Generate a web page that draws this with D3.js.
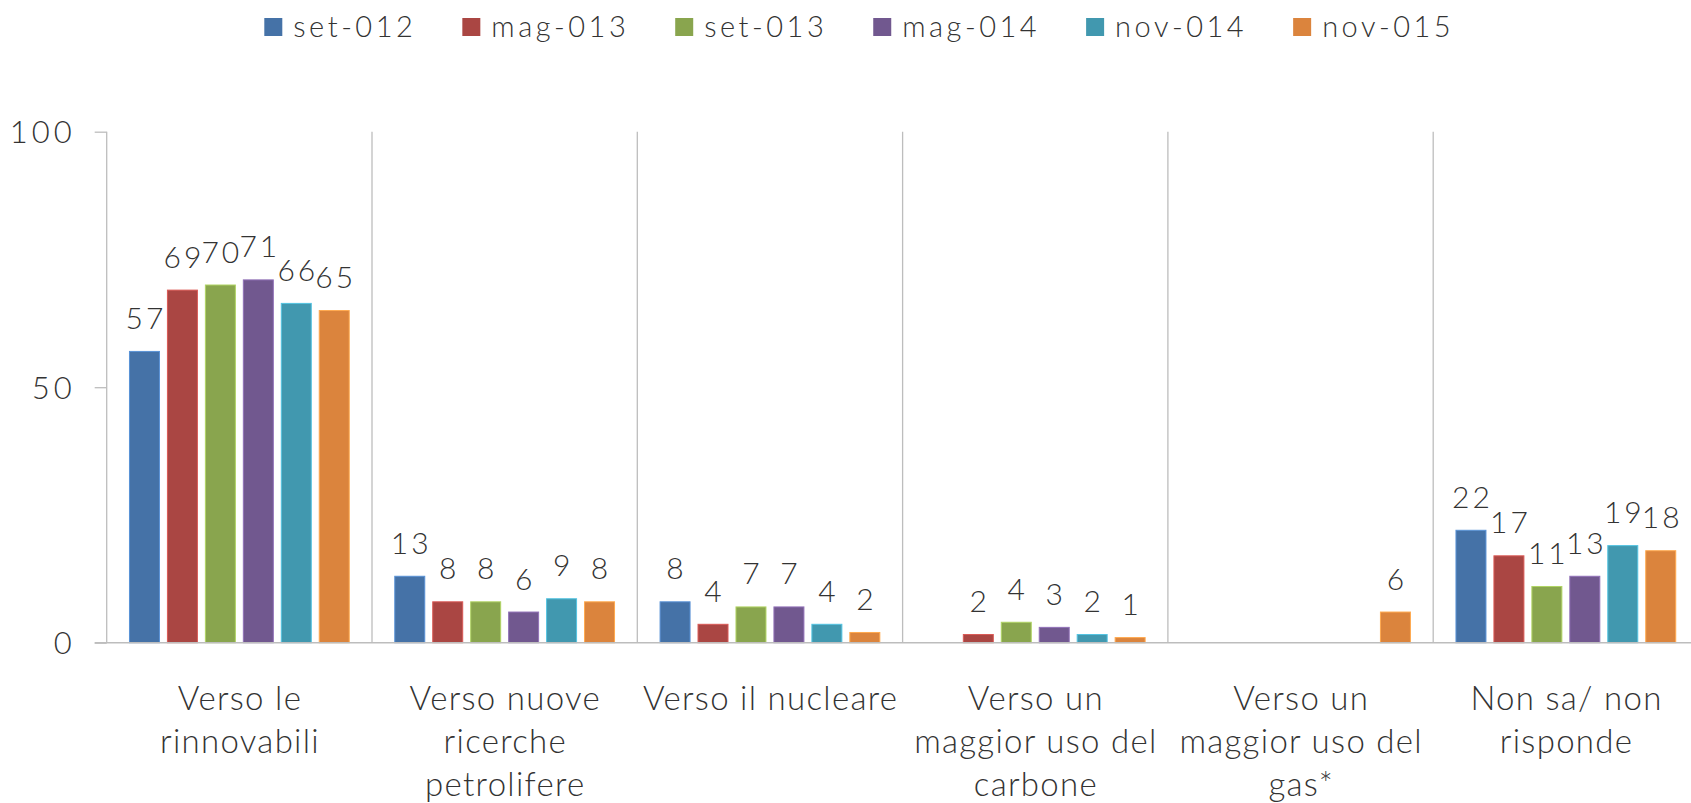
<!DOCTYPE html>
<html>
<head>
<meta charset="utf-8">
<script src="https://cdn.jsdelivr.net/npm/d3@7"></script>
<style>
  html, body { margin: 0; padding: 0; background: #fff; }
  svg { display: block; }
  text { font-family: Lato, "Noto Sans", sans-serif; fill: #333; font-weight: 300; }
</style>
</head>
<body>
<svg id="chart" width="1691" height="803"></svg>
<script>
// ---- data ----
const categories = [
  ["Verso le", "rinnovabili"],
  ["Verso nuove", "ricerche", "petrolifere"],
  ["Verso il nucleare"],
  ["Verso un", "maggior uso del", "carbone"],
  ["Verso un", "maggior uso del", "gas*"],
  ["Non sa/ non", "risponde"]
];
const seriesNames = ["set-012", "mag-013", "set-013", "mag-014", "nov-014", "nov-015"];
const seriesColors = ["#4572A7", "#AA4643", "#89A54E", "#71588F", "#4198AF", "#DB843D"];
const set012 = [57, 13, 8, null, null, 22];
const mag013 = [69, 8, 3.6, 1.6, null, 17];
const set013 = [70, 8, 7, 4, null, 11];
const mag014 = [71, 6, 7, 3, null, 13];
const nov014 = [66.4, 8.6, 3.6, 1.6, null, 19];
const nov015 = [65, 8, 2, 1, 6, 18];
const seriesValues = [set012, mag013, set013, mag014, nov014, nov015];
const yTicks = [0, 50, 100];

(function () {
// ---- layout ----
const svg = d3.select("#chart");
const plotLeft = 106.7, plotTop = 131.7, plotBottom = 642.7, bandW = 265.3;
const catIdx = d3.range(categories.length);

const x = d3.scaleBand().domain(catIdx).range([plotLeft, plotLeft + bandW * categories.length]).padding(0);
const xi = d3.scaleBand().domain(d3.range(seriesNames.length)).range([0, x.bandwidth()])
  .paddingInner(0.21).paddingOuter(0.6);
const y = d3.scaleLinear().domain([0, 100]).range([plotBottom, plotTop]);

// vertical separators (category boundaries)
svg.append("g").selectAll("line.sep").data(d3.range(categories.length + 1)).join("line")
  .attr("class", "sep")
  .attr("x1", i => plotLeft + bandW * i).attr("x2", i => plotLeft + bandW * i)
  .attr("y1", y(100)).attr("y2", y(0))
  .attr("stroke", "#bdbdbd").attr("stroke-width", 1.3);

// y axis
const yLs = 4;
const yAxis = d3.axisLeft(y).tickValues(yTicks).tickSize(12).tickPadding(23).tickFormat(d3.format("d"));
const ya = svg.append("g").attr("transform", `translate(${plotLeft},0)`).call(yAxis);
ya.select(".domain").remove();
ya.selectAll(".tick line").attr("stroke", "#bdbdbd").attr("stroke-width", 1.3);
ya.selectAll(".tick text").attr("font-size", 31).attr("font-family", "Lato, sans-serif")
  .attr("font-weight", 300)
  .attr("fill", "#333").attr("dy", "0.36em")
  .attr("letter-spacing", yLs).attr("dx", yLs);

// bars
const flat = [];
seriesValues.forEach((vals, s) => vals.forEach((v, c) => { if (v !== null) flat.push({ s, c, v }); }));

svg.append("g").selectAll("rect").data(flat).join("rect")
  .attr("x", d => x(d.c) + xi(d.s))
  .attr("width", xi.bandwidth())
  .attr("y", d => y(d.v))
  .attr("height", d => y(0) - y(d.v))
  .attr("fill", d => seriesColors[d.s])
  .attr("stroke", d => d3.color(seriesColors[d.s]).brighter(0.7))
  .attr("stroke-width", 1);

// baseline
svg.append("line")
  .attr("x1", plotLeft - 12).attr("x2", 1691)
  .attr("y1", y(0)).attr("y2", y(0))
  .attr("stroke", "#bdbdbd").attr("stroke-width", 1.6);

// data labels
const dLs = 3;
svg.append("g").selectAll("text").data(flat).join("text")
  .attr("x", d => x(d.c) + xi(d.s) + xi.bandwidth() / 2)
  .attr("y", d => y(d.v) - 22.5)
  .attr("text-anchor", "middle")
  .attr("font-size", 30)
  .attr("letter-spacing", dLs).attr("dx", dLs / 2)
  .text(d => d3.format(".0f")(d.v));

// category labels
const cLs = 1.3;
const cl = svg.append("g").selectAll("text").data(catIdx).join("text")
  .attr("text-anchor", "middle")
  .attr("font-size", 33)
  .attr("letter-spacing", cLs);
cl.each(function (c) {
  const t = d3.select(this);
  categories[c].forEach((line, i) => {
    t.append("tspan")
      .attr("x", x(c) + x.bandwidth() / 2 + cLs / 2)
      .attr("y", 710 + i * 43)
      .text(line);
  });
});

// legend (items flow left to right)
const lgG = svg.append("g");
let lx = 264.3;
seriesNames.forEach((name, i) => {
  lgG.append("rect").attr("x", lx).attr("y", 18).attr("width", 18).attr("height", 18)
    .attr("fill", seriesColors[i]);
  const t = lgG.append("text").attr("x", lx + 29).attr("y", 37).attr("font-size", 29)
    .attr("letter-spacing", 3.5).text(name);
  const w = t.node().getComputedTextLength();
  lx += 29 + w + 46;
});
})();
</script>
</body>
</html>
